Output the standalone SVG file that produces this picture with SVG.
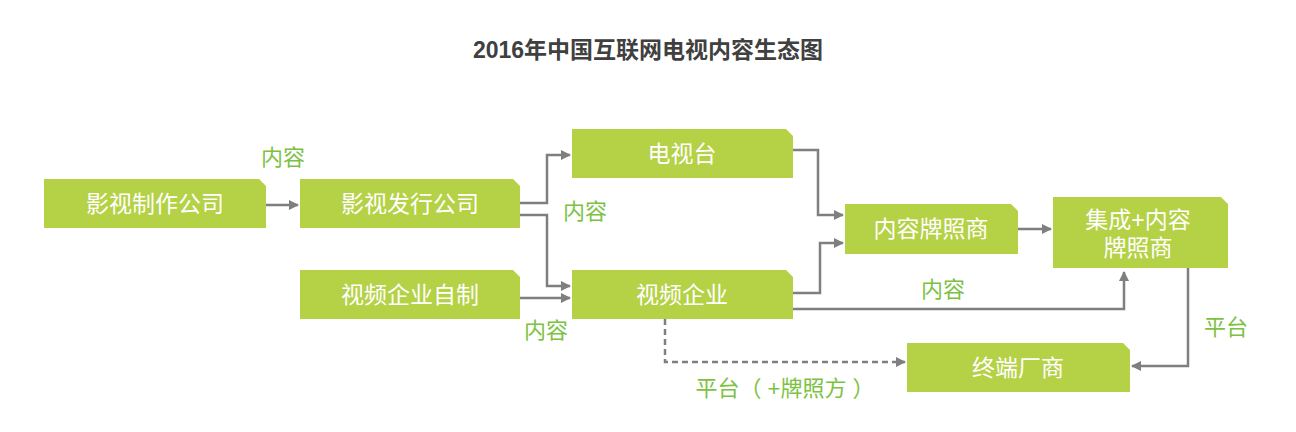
<svg xmlns="http://www.w3.org/2000/svg" width="1296" height="432" viewBox="0 0 1296 432">
<style>
.n{fill:#b5d145}
.t{font-family:"Liberation Sans","Noto Sans CJK SC",sans-serif;font-size:23px;fill:#fff;text-anchor:middle;dominant-baseline:central}
.l{font-family:"Liberation Sans","Noto Sans CJK SC",sans-serif;font-size:22px;fill:#7cc242;text-anchor:middle;dominant-baseline:central}
.c{fill:none;stroke:#7f7f7f;stroke-width:2.5}
</style>
<defs><marker id="a" viewBox="0 0 10 10" refX="9" refY="5" markerWidth="4" markerHeight="4" orient="auto"><path d="M0,0L10,5L0,10z" fill="#7f7f7f"/></marker></defs>
<rect width="1296" height="432" fill="#fff"/>
<text x="648" y="50" style="font-family:'Liberation Sans','Noto Sans CJK SC',sans-serif;font-size:23px;font-weight:bold;fill:#404040;text-anchor:middle;dominant-baseline:central">2016年中国互联网电视内容生态图</text>
<g id="connectors">
<path class="c" d="M266,205H298" marker-end="url(#a)"/>
<path class="c" d="M520,203H547V155H570" marker-end="url(#a)"/>
<path class="c" d="M520,215H547V286H570" marker-end="url(#a)"/>
<path class="c" d="M520,298H570" marker-end="url(#a)"/>
<path class="c" d="M793,150H818V215H843" marker-end="url(#a)"/>
<path class="c" d="M793,293H820V243H843" marker-end="url(#a)"/>
<path class="c" d="M1018,229H1051" marker-end="url(#a)"/>
<path class="c" d="M793,309H1124V272" marker-end="url(#a)"/>
<path class="c" d="M1188,268V366H1132" marker-end="url(#a)"/>
<path class="c" d="M665,319V362H905" stroke-dasharray="6,4" stroke-width="2" marker-end="url(#a)"/>
</g>
<g id="n1"><path class="n" d="M44,179H259L266,186V228H44z"/><text class="t" x="155" y="204">影视制作公司</text></g>
<g id="n2"><path class="n" d="M300,179H513L520,186V228H300z"/><text class="t" x="410" y="204">影视发行公司</text></g>
<g id="n3"><path class="n" d="M300,270H513L520,277V319H300z"/><text class="t" x="410" y="295">视频企业自制</text></g>
<g id="n4"><path class="n" d="M572,129H786L793,136V178H572z"/><text class="t" x="682" y="154">电视台</text></g>
<g id="n5"><path class="n" d="M572,270H786L793,277V319H572z"/><text class="t" x="682" y="295">视频企业</text></g>
<g id="n6"><path class="n" d="M845,204H1011L1018,211V254H845z"/><text class="t" x="931" y="229">内容牌照商</text></g>
<g id="n7"><path class="n" d="M1053,197H1221L1228,204V268H1053z"/><text class="t" x="1138" y="220">集成+内容</text><text class="t" x="1138" y="248">牌照商</text></g>
<g id="n8"><path class="n" d="M907,343H1123L1130,350V392H907z"/><text class="t" x="1018" y="368">终端厂商</text></g>
<g id="labels">
<text class="l" x="283" y="157">内容</text>
<text class="l" x="585" y="211">内容</text>
<text class="l" x="546" y="330">内容</text>
<text class="l" x="943" y="289">内容</text>
<text class="l" x="1226" y="327">平台</text>
<text class="l" x="785" y="388">平台（ +牌照方 ）</text>
</g>
</svg>
